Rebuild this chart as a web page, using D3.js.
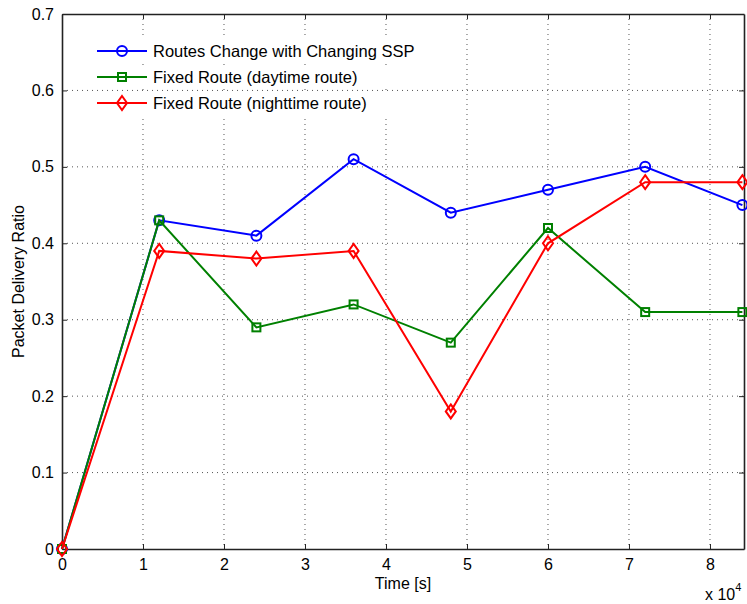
<!DOCTYPE html>
<html>
<head>
<meta charset="utf-8">
<script src="https://cdn.jsdelivr.net/npm/d3@7/dist/d3.min.js"></script>
<style>
  body { margin: 0; background: #fff; }
  svg { display: block; font-family: "Liberation Sans", Arial, sans-serif; }
</style>
</head>
<body>
<div id="chart"></div>
<script>
// time in seconds, PDR per scheme
const times = [0, 12000, 24000, 36000, 48000, 60000, 72000, 84000];
const changingRoute = [0, 0.43, 0.41, 0.51, 0.44, 0.47, 0.50, 0.45];
const dayRoute = [0, 0.43, 0.29, 0.32, 0.27, 0.42, 0.31, 0.31];
const nightRoute = [0, 0.39, 0.38, 0.39, 0.18, 0.40, 0.48, 0.48];
const xTicks = [0, 1, 2, 3, 4, 5, 6, 7, 8];
const yTicks = [0, 0.1, 0.2, 0.3, 0.4, 0.5, 0.6, 0.7];
const seriesNames = ["Routes Change with Changing SSP", "Fixed Route (daytime route)", "Fixed Route (nighttime route)"];

const W = 747, H = 604;
const margin = { left: 62, right: 3, top: 14, bottom: 55 };
const w = W - margin.left - margin.right, h = H - margin.top - margin.bottom;
const fs = 16;

const svg = d3.select("#chart").append("svg").attr("width", W).attr("height", H);
const g = svg.append("g").attr("transform", "translate(" + margin.left + "," + margin.top + ")");

const x = d3.scaleLinear().domain([0, 84200]).range([0, w]);
const y = d3.scaleLinear().domain([0, 0.7]).range([h, 0]);

// grid
g.selectAll(".vgrid").data(xTicks.slice(1)).enter().append("line")
  .attr("x1", d => x(d * 1e4)).attr("x2", d => x(d * 1e4))
  .attr("y1", 0).attr("y2", h)
  .attr("stroke", "#555").attr("stroke-width", 1).attr("stroke-dasharray", "1,4");
g.selectAll(".hgrid").data(yTicks.slice(1, -1)).enter().append("line")
  .attr("x1", 0).attr("x2", w)
  .attr("y1", d => y(d)).attr("y2", d => y(d))
  .attr("stroke", "#555").attr("stroke-width", 1).attr("stroke-dasharray", "1,4");

// axes with inward ticks
const xAxis = d3.axisBottom(x).tickValues(xTicks.map(d => d * 1e4)).tickFormat((d, i) => xTicks[i])
  .tickSizeInner(-5).tickSizeOuter(0).tickPadding(10);
const yAxis = d3.axisLeft(y).tickValues(yTicks).tickFormat(d => d === 0 ? "0" : d3.format(".1f")(d))
  .tickSizeInner(-5).tickSizeOuter(0).tickPadding(8);

const gx = g.append("g").attr("transform", "translate(0," + h + ")").call(xAxis);
const gy = g.append("g").call(yAxis);
g.append("g").call(d3.axisTop(x).tickValues(xTicks.map(d => d * 1e4)).tickFormat("").tickSizeInner(-5).tickSizeOuter(0));
g.append("g").attr("transform", "translate(" + w + ",0)")
  .call(d3.axisRight(y).tickValues(yTicks).tickFormat("").tickSizeInner(-5).tickSizeOuter(0));

g.selectAll(".domain").attr("stroke", "#222").attr("stroke-width", 1.6);
g.selectAll(".tick line").attr("stroke", "#222");
[gx, gy].forEach(a => a.selectAll("text").attr("font-size", fs).attr("fill", "#000")
  .attr("font-family", "Liberation Sans, Arial, sans-serif"));

// axis labels
svg.append("text").attr("x", margin.left + w / 2).attr("y", 589).attr("text-anchor", "middle")
  .attr("font-size", fs).text("Time [s]");
svg.append("text").attr("transform", "translate(24," + (margin.top + h / 2) + ") rotate(-90)")
  .attr("text-anchor", "middle").attr("font-size", fs).text("Packet Delivery Ratio");
const mult = svg.append("text").attr("x", 705).attr("y", 600).attr("font-size", fs);
mult.append("tspan").text("x 10");
mult.append("tspan").attr("font-size", 11).attr("dy", -9).text("4");

// series
const series = [
  { vals: changingRoute, color: "#0000ff", marker: "circle" },
  { vals: dayRoute, color: "#008000", marker: "square" },
  { vals: nightRoute, color: "#ff0000", marker: "diamond" }
];

function drawMarker(sel, type, color) {
  if (type === "circle") {
    sel.append("circle").attr("r", 5).attr("fill", "none").attr("stroke", color).attr("stroke-width", 2);
  } else if (type === "square") {
    sel.append("rect").attr("x", -4).attr("y", -4).attr("width", 8).attr("height", 8)
      .attr("fill", "none").attr("stroke", color).attr("stroke-width", 2);
  } else {
    sel.append("path").attr("d", "M0,-7L5,0L0,7L-5,0Z")
      .attr("fill", "none").attr("stroke", color).attr("stroke-width", 2);
  }
}

const line = d3.line().x((d, i) => x(times[i])).y(d => y(d));

series.forEach(s => {
  g.append("path").datum(s.vals).attr("d", line)
    .attr("fill", "none").attr("stroke", s.color).attr("stroke-width", 2);
  g.selectAll(null).data(s.vals).enter().append("g")
    .attr("transform", (d, i) => "translate(" + x(times[i]) + "," + y(d) + ")")
    .each(function () { drawMarker(d3.select(this), s.marker, s.color); });
});

// legend
const legend = svg.append("g").attr("transform", "translate(97,51)");
series.forEach((s, i) => {
  const row = legend.append("g").attr("transform", "translate(0," + i * 26 + ")");
  row.append("rect").attr("x", -2).attr("y", -12).attr("width", 330).attr("height", 24).attr("fill", "#fff");
  row.append("line").attr("x1", 0).attr("x2", 50).attr("stroke", s.color).attr("stroke-width", 2);
  const m = row.append("g").attr("transform", "translate(25,0)");
  drawMarker(m, s.marker, s.color);
  row.append("text").attr("x", 56).attr("y", 6).attr("font-size", 16.5).text(seriesNames[i]);
});
</script>
</body>
</html>
